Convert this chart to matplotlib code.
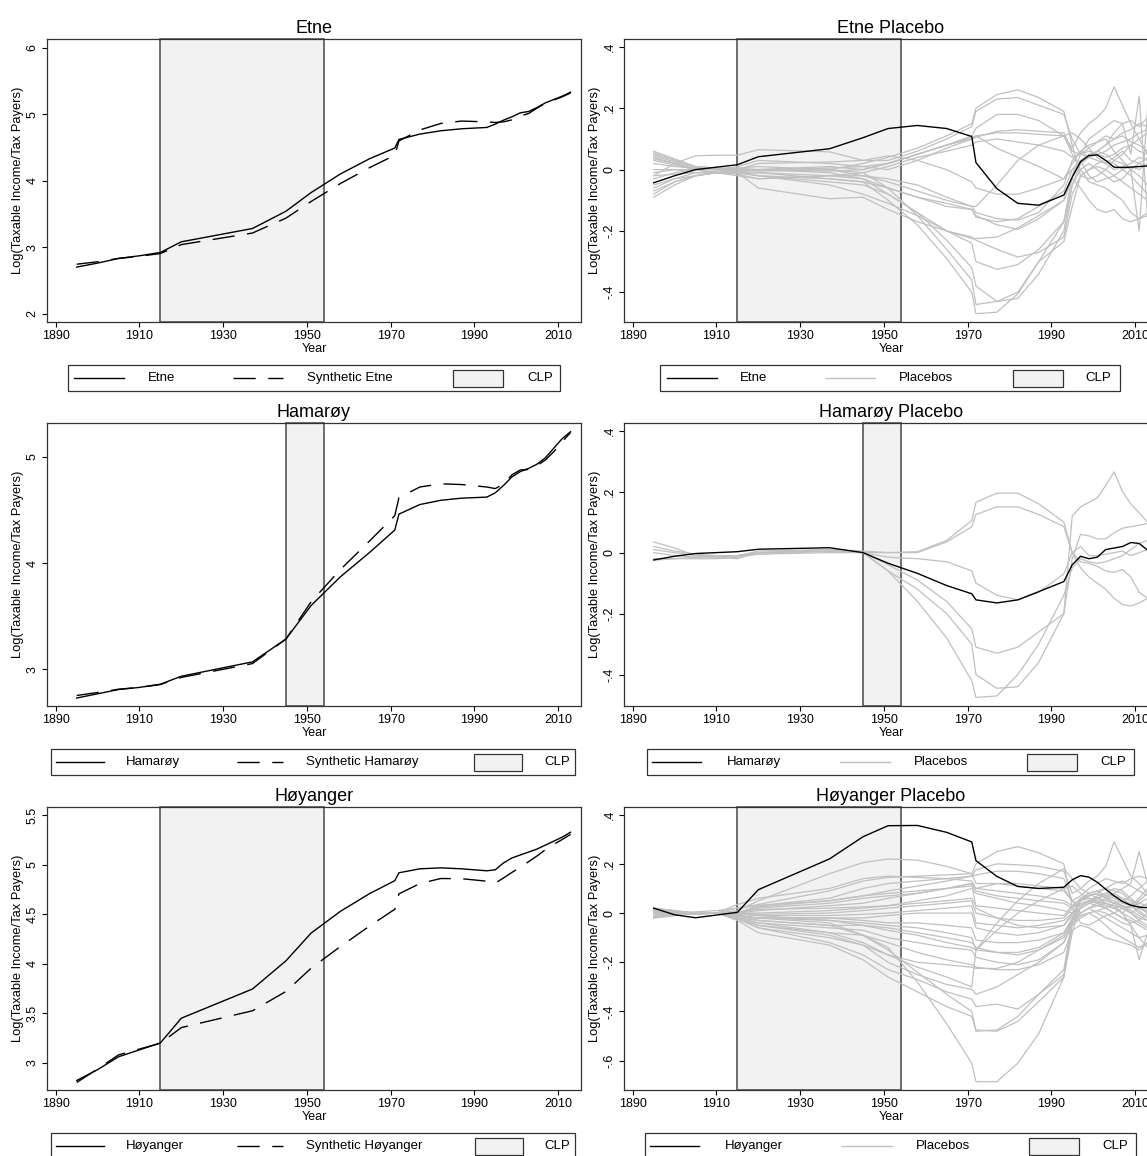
import matplotlib
matplotlib.use('Agg')
import matplotlib.pyplot as plt
from matplotlib.patches import Rectangle

plt.rcParams['font.family'] = ['Liberation Sans', 'DejaVu Sans']

# ---------------- data ----------------
years = [1895, 1900, 1905, 1910, 1915, 1920, 1937, 1945,
         1951, 1958, 1965, 1971, 1972, 1977, 1982, 1987, 1993,
         1995, 1997, 1999, 2001, 2003, 2005, 2007, 2009, 2011, 2013]

xticks = [1890, 1910, 1930, 1950, 1970, 1990, 2010]

# Etne
etne_actual = [2.70, 2.76, 2.83, 2.87, 2.92, 3.08, 3.28, 3.54,
               3.82, 4.10, 4.33, 4.49, 4.62, 4.70, 4.75, 4.78, 4.80,
               4.85, 4.91, 4.96, 5.02, 5.04, 5.10, 5.17, 5.22, 5.27, 5.33]
etne_synth = [2.743, 2.78, 2.83, 2.862, 2.904, 3.038, 3.212, 3.436,
              3.686, 3.956, 4.196, 4.382, 4.597, 4.762, 4.86, 4.896, 4.883,
              4.875, 4.884, 4.914, 4.972, 5.01, 5.092, 5.163, 5.212, 5.26, 5.318]
etne_gap = [-0.043, -0.02, 0.0, 0.008, 0.016, 0.042, 0.068, 0.104,
            0.134, 0.144, 0.134, 0.108, 0.023, -0.062, -0.11, -0.116, -0.083,
            -0.025, 0.026, 0.046, 0.048, 0.03, 0.008, 0.007, 0.008, 0.01, 0.012]
etne_placebos = [
    [0.055, 0.03, 0.01, 0.005, 0.0, -0.005, 0.0, 0.02, 0.04, 0.07, 0.11, 0.15, 0.20, 0.245, 0.26, 0.235, 0.19, 0.08, -0.02, -0.03, -0.02, 0.0, 0.03, 0.05, 0.08, 0.10, 0.12],
    [0.045, 0.025, 0.005, 0.0, 0.0, 0.02, 0.025, 0.03, 0.03, 0.06, 0.10, 0.14, 0.19, 0.23, 0.235, 0.21, 0.18, 0.10, 0.05, 0.04, 0.06, 0.08, 0.12, 0.15, 0.16, 0.14, 0.17],
    [0.03, 0.015, 0.0, 0.0, 0.01, 0.03, 0.02, 0.01, 0.02, 0.05, 0.08, 0.11, 0.135, 0.18, 0.18, 0.16, 0.11, 0.07, 0.12, 0.15, 0.17, 0.20, 0.27, 0.21, 0.15, 0.10, 0.05],
    [0.02, 0.01, 0.005, 0.0, -0.005, 0.0, 0.01, 0.0, 0.02, 0.05, 0.08, 0.105, 0.11, 0.12, 0.12, 0.115, 0.11, 0.05, 0.0, -0.04, -0.05, -0.06, -0.08, -0.10, -0.14, -0.16, -0.15],
    [0.06, 0.035, 0.01, 0.005, 0.0, 0.0, 0.005, 0.01, 0.0, 0.03, 0.07, 0.10, 0.105, 0.125, 0.13, 0.125, 0.12, 0.06, 0.05, 0.07, 0.09, 0.11, 0.10, 0.12, 0.13, 0.15, 0.14],
    [-0.01, 0.0, 0.0, 0.0, 0.005, 0.01, 0.0, -0.01, 0.01, 0.04, 0.06, 0.08, 0.09, 0.10, 0.09, 0.08, 0.06, 0.04, 0.05, 0.06, 0.05, 0.04, 0.05, 0.07, 0.08, 0.06, 0.05],
    [0.0, 0.0, -0.01, -0.01, -0.01, 0.0, 0.0, -0.02, -0.04, -0.07, -0.10, -0.12, -0.12, -0.05, 0.03, 0.08, 0.11, 0.12, 0.10, 0.07, 0.04, 0.02, 0.0, 0.01, 0.02, 0.04, 0.03],
    [-0.03, -0.01, 0.0, 0.005, 0.005, 0.0, -0.005, 0.0, 0.02, 0.05, 0.08, 0.10, 0.11, 0.07, 0.04, 0.01, -0.03, 0.02, 0.06, 0.08, 0.09, 0.10, 0.06, 0.03, 0.0, 0.02, 0.04],
    [-0.02, -0.015, -0.01, -0.01, -0.01, -0.01, -0.02, -0.02, -0.03, -0.05, -0.09, -0.12, -0.14, -0.16, -0.165, -0.14, -0.05, 0.03, 0.06, 0.04, 0.03, 0.02, 0.04, 0.06, 0.03, 0.02, 0.01],
    [-0.05, -0.03, -0.02, -0.01, -0.005, 0.0, -0.01, -0.03, -0.06, -0.09, -0.11, -0.13, -0.155, -0.17, -0.16, -0.12, -0.07, 0.0, 0.03, -0.02, -0.04, -0.03, -0.02, 0.0, 0.01, 0.0, 0.02],
    [-0.07, -0.04, -0.02, -0.01, -0.01, -0.02, -0.03, -0.04, -0.06, -0.09, -0.12, -0.13, -0.15, -0.18, -0.195, -0.16, -0.10, -0.03, -0.06, -0.10, -0.13, -0.14, -0.13, -0.16, -0.17, -0.16, -0.14],
    [-0.09, -0.05, -0.02, -0.01, -0.01, -0.06, -0.095, -0.09, -0.13, -0.17, -0.20, -0.22, -0.23, -0.26, -0.285, -0.27, -0.22, -0.08, -0.02, 0.0, 0.02, 0.03, 0.02, 0.0, -0.02, -0.05, -0.08],
    [-0.06, -0.03, -0.01, -0.005, -0.005, -0.02, -0.04, -0.05, -0.08, -0.14, -0.20, -0.24, -0.30, -0.325, -0.31, -0.26, -0.17, -0.05, 0.0, 0.02, 0.0, -0.02, -0.04, -0.03, 0.0, -0.2, 0.2],
    [0.04, 0.02, 0.0, -0.01, -0.02, -0.03, -0.02, -0.01, -0.06, -0.15, -0.26, -0.36, -0.44, -0.43, -0.42, -0.34, -0.20, -0.05, 0.02, 0.04, 0.05, 0.06, 0.08, 0.09, 0.10, 0.12, 0.13],
    [0.05, 0.03, 0.01, 0.0, -0.01, -0.01, -0.03, -0.04, -0.10, -0.18, -0.29, -0.40, -0.47, -0.465, -0.405, -0.30, -0.17, -0.02, 0.03, 0.05, 0.06, 0.05, 0.03, 0.02, 0.0, -0.02, -0.05],
    [0.035, 0.02, 0.0, -0.01, -0.015, -0.03, -0.02, -0.03, -0.08, -0.14, -0.23, -0.32, -0.38, -0.43, -0.40, -0.30, -0.235, -0.12, -0.02, 0.0, 0.01, 0.0, -0.02, -0.04, -0.06, -0.08, -0.10],
    [-0.02, 0.02, 0.045, 0.047, 0.047, 0.065, 0.058, 0.03, 0.045, 0.03, 0.0, -0.04, -0.06, -0.08, -0.08, -0.06, -0.03, 0.0, 0.02, 0.04, 0.06, 0.08, 0.10, 0.11, 0.09, 0.08, 0.06],
    [-0.08, -0.04, -0.02, -0.01, -0.01, -0.02, -0.05, -0.08, -0.11, -0.15, -0.20, -0.225, -0.225, -0.22, -0.19, -0.15, -0.10, -0.02, 0.05, 0.10, 0.12, 0.14, 0.16, 0.15, 0.05, 0.24, -0.15],
]

# Hamarøy
hama_actual = [2.73, 2.77, 2.81, 2.83, 2.86, 2.935, 3.07, 3.285,
               3.60, 3.87, 4.10, 4.31, 4.46, 4.55, 4.59, 4.61, 4.62,
               4.66, 4.73, 4.81, 4.86, 4.89, 4.93, 4.99, 5.08, 5.17, 5.235]
hama_synth = [2.754, 2.782, 2.813, 2.83, 2.857, 2.924, 3.054, 3.285,
              3.635, 3.938, 4.208, 4.445, 4.615, 4.715, 4.745, 4.738, 4.715,
              4.70, 4.742, 4.83, 4.875, 4.88, 4.915, 4.97, 5.047, 5.14, 5.227]
hama_gap = [-0.024, -0.012, -0.003, 0.0, 0.003, 0.011, 0.016, 0.0,
            -0.035, -0.068, -0.108, -0.135, -0.155, -0.165, -0.155, -0.128, -0.095,
            -0.04, -0.012, -0.02, -0.015, 0.01, 0.015, 0.02, 0.033, 0.03, 0.008]
hama_placebos = [
    [0.035, 0.015, -0.01, -0.015, -0.02, 0.0, 0.005, 0.0, 0.0, 0.003, 0.04, 0.105, 0.165, 0.195, 0.195, 0.16, 0.10, 0.0, -0.05, -0.08, -0.10, -0.12, -0.15, -0.17, -0.175, -0.165, -0.15],
    [0.02, 0.005, -0.005, -0.01, -0.01, 0.005, 0.01, 0.005, 0.0, 0.0, 0.035, 0.085, 0.125, 0.15, 0.15, 0.125, 0.085, 0.0, -0.03, -0.035, -0.045, -0.06, -0.065, -0.055, -0.08, -0.13, -0.15],
    [-0.02, -0.02, -0.02, -0.02, -0.015, -0.005, 0.0, 0.0, -0.06, -0.12, -0.2, -0.3, -0.4, -0.445, -0.44, -0.36, -0.2, 0.12, 0.15, 0.165, 0.18, 0.22, 0.265, 0.2, 0.16, 0.13, 0.10],
    [0.0, -0.01, -0.015, -0.015, -0.01, 0.0, 0.005, 0.0, -0.04, -0.09, -0.16, -0.25, -0.31, -0.33, -0.31, -0.26, -0.2, -0.02, 0.06, 0.055, 0.045, 0.045, 0.065, 0.08, 0.085, 0.09, 0.095],
    [0.01, 0.0, -0.01, -0.01, -0.01, 0.0, 0.01, 0.0, -0.015, -0.02, -0.03, -0.06, -0.1, -0.14, -0.155, -0.13, -0.07, 0.0, 0.02, -0.01, -0.01, -0.005, 0.0, 0.005, -0.01, 0.0, 0.01],
    [-0.025, -0.02, -0.015, -0.01, -0.01, -0.005, 0.005, 0.0, -0.06, -0.16, -0.28, -0.42, -0.475, -0.47, -0.40, -0.30, -0.14, -0.05, -0.02, -0.03, -0.035, -0.03, -0.02, -0.01, 0.01, 0.03, 0.04],
]

# Høyanger
hoy_actual = [2.82, 2.93, 3.06, 3.13, 3.20, 3.45, 3.745, 4.03,
              4.31, 4.53, 4.71, 4.84, 4.92, 4.96, 4.97, 4.96, 4.94,
              4.95, 5.02, 5.07, 5.10, 5.13, 5.16, 5.20, 5.24, 5.28, 5.33]
hoy_synth = [2.80, 2.937, 3.079, 3.138, 3.197, 3.355, 3.525, 3.72,
             3.955, 4.174, 4.382, 4.551, 4.707, 4.811, 4.862, 4.86, 4.835,
             4.815, 4.868, 4.924, 4.975, 5.033, 5.09, 5.153, 5.208, 5.256, 5.308]
hoy_gap = [0.02, -0.007, -0.019, -0.008, 0.003, 0.095, 0.22, 0.31,
           0.355, 0.356, 0.328, 0.289, 0.213, 0.149, 0.108, 0.1, 0.105,
           0.135, 0.152, 0.146, 0.125, 0.097, 0.07, 0.047, 0.032, 0.024, 0.022]
hoy_placebos = [
    [0.01, 0.0, -0.005, 0.0, 0.01, 0.05, 0.16, 0.205, 0.22, 0.215, 0.19, 0.16, 0.12, 0.12, 0.11, 0.10, 0.09, 0.05, 0.03, 0.05, 0.06, 0.07, 0.08, 0.06, 0.05, 0.04, 0.03],
    [-0.01, 0.0, 0.005, 0.01, 0.02, 0.035, 0.09, 0.13, 0.145, 0.15, 0.155, 0.16, 0.2, 0.25, 0.27, 0.245, 0.2, 0.02, -0.04, -0.05, -0.03, -0.01, 0.0, 0.02, 0.03, 0.01, -0.02],
    [0.0, 0.005, 0.0, 0.0, 0.0, 0.03, 0.06, 0.1, 0.12, 0.13, 0.14, 0.15, 0.176, 0.2, 0.196, 0.19, 0.17, 0.08, 0.1, 0.13, 0.15, 0.19, 0.29, 0.22, 0.15, 0.12, 0.08],
    [0.02, 0.01, 0.0, 0.0, -0.005, 0.025, 0.05, 0.07, 0.09, 0.11, 0.13, 0.15, 0.155, 0.17, 0.17, 0.16, 0.14, 0.05, 0.0, 0.02, 0.04, 0.06, 0.08, 0.1, 0.12, 0.25, 0.12],
    [-0.02, -0.01, 0.0, 0.0, 0.0, 0.02, 0.04, 0.06, 0.07, 0.08, 0.1, 0.12, 0.1, 0.12, 0.12, 0.11, 0.1, 0.05, 0.07, 0.1, 0.12, 0.14, 0.13, 0.12, 0.14, 0.15, 0.14],
    [0.015, 0.005, -0.005, 0.0, 0.0, 0.01, 0.03, 0.04, 0.06, 0.08, 0.1, 0.11, 0.09, 0.07, 0.06, 0.05, 0.04, 0.02, 0.05, 0.08, 0.09, 0.1, 0.09, 0.08, 0.05, 0.02, 0.0],
    [-0.015, -0.005, 0.0, 0.0, 0.005, 0.015, 0.02, 0.025, 0.03, 0.05, 0.07, 0.1, 0.08, 0.06, 0.04, 0.03, 0.01, 0.0, 0.02, 0.04, 0.06, 0.05, 0.07, 0.06, 0.03, 0.0, -0.02],
    [0.0, 0.0, 0.0, 0.0, -0.01, -0.02, -0.03, -0.05, -0.07, -0.09, -0.12, -0.14, -0.15, -0.07, 0.0, 0.05, 0.1, 0.11, 0.08, 0.06, 0.05, 0.03, 0.02, 0.03, 0.0, -0.03, -0.05],
    [0.01, 0.005, 0.0, 0.0, 0.0, 0.0, 0.01, 0.02, 0.03, 0.04, 0.05, 0.06, 0.03, 0.02, 0.01, 0.0, -0.01, 0.03, 0.06, 0.07, 0.08, 0.06, 0.05, 0.03, 0.02, 0.04, 0.06],
    [-0.01, 0.0, 0.0, 0.0, 0.0, -0.005, 0.0, 0.01, 0.02, 0.03, 0.04, 0.05, 0.0, -0.02, -0.03, -0.03, -0.02, 0.02, 0.05, 0.06, 0.04, 0.03, 0.02, 0.0, -0.02, -0.04, -0.06],
    [0.005, 0.0, 0.0, 0.0, 0.0, -0.01, -0.01, -0.005, 0.0, 0.01, 0.02, 0.03, -0.04, -0.05, -0.06, -0.05, -0.03, 0.0, 0.04, 0.05, 0.06, 0.05, 0.04, 0.03, 0.01, -0.01, -0.03],
    [-0.01, -0.005, 0.0, 0.0, -0.01, -0.02, -0.02, -0.02, -0.01, 0.0, 0.0, 0.0, -0.06, -0.08, -0.09, -0.08, -0.05, -0.01, 0.02, 0.04, 0.03, 0.02, 0.0, -0.02, -0.03, -0.05, -0.07],
    [0.0, 0.0, 0.0, 0.0, -0.015, -0.02, -0.02, -0.03, -0.04, -0.04, -0.05, -0.06, -0.11, -0.12, -0.12, -0.11, -0.08, -0.02, 0.0, 0.02, 0.0, -0.02, -0.04, -0.06, -0.08, -0.1, -0.09],
    [0.02, 0.01, 0.0, 0.0, -0.02, -0.03, -0.05, -0.05, -0.06, -0.08, -0.1, -0.12, -0.14, -0.16, -0.17, -0.15, -0.1, -0.03, 0.0, 0.02, 0.03, 0.04, 0.03, 0.02, 0.0, -0.02, -0.03],
    [-0.02, -0.01, 0.0, 0.0, -0.02, -0.04, -0.06, -0.07, -0.1, -0.12, -0.14, -0.15, -0.18, -0.2, -0.21, -0.19, -0.12, -0.05, -0.02, 0.0, -0.02, -0.05, -0.08, -0.1, -0.12, -0.14, -0.12],
    [0.01, 0.005, 0.0, 0.0, -0.02, -0.05, -0.08, -0.09, -0.12, -0.16, -0.19, -0.21, -0.22, -0.23, -0.23, -0.21, -0.16, -0.07, -0.05, -0.06, -0.08, -0.1, -0.11, -0.12, -0.13, -0.15, -0.12],
    [-0.01, 0.0, 0.0, 0.0, -0.025, -0.06, -0.1, -0.13, -0.17, -0.2, -0.21, -0.22, -0.225, -0.225, -0.2, -0.15, -0.09, -0.04, -0.01, 0.0, 0.01, 0.0, -0.02, -0.04, -0.05, -0.19, -0.08],
    [0.0, 0.005, 0.0, 0.0, -0.02, -0.05, -0.09, -0.13, -0.2, -0.25, -0.29, -0.31, -0.33, -0.3, -0.25, -0.2, -0.12, -0.03, 0.02, 0.04, 0.05, 0.04, 0.03, 0.0, -0.05, -0.1, -0.14],
    [0.01, 0.0, -0.005, 0.0, -0.02, -0.06, -0.12, -0.17, -0.23, -0.27, -0.32, -0.35, -0.38, -0.37, -0.39, -0.33, -0.25, -0.02, 0.05, 0.07, 0.08, 0.06, 0.04, 0.02, 0.0, 0.02, 0.04],
    [-0.01, 0.0, 0.0, 0.0, -0.03, -0.08, -0.13, -0.19, -0.26, -0.32, -0.38, -0.42, -0.475, -0.48, -0.44, -0.36, -0.26, -0.08, 0.03, 0.05, 0.04, 0.02, 0.0, -0.02, -0.04, -0.03, 0.0],
    [0.005, 0.0, -0.005, 0.0, -0.01, -0.02, -0.04, -0.09, -0.15, -0.24, -0.33, -0.4, -0.48, -0.475, -0.42, -0.33, -0.23, -0.03, 0.06, 0.08, 0.09, 0.07, 0.06, 0.04, 0.03, 0.05, 0.08],
    [0.0, 0.0, 0.0, 0.0, -0.01, -0.03, -0.05, -0.09, -0.14, -0.28, -0.45, -0.61, -0.685, -0.685, -0.61, -0.49, -0.26, -0.05, 0.03, 0.05, 0.07, 0.08, 0.1, 0.09, 0.06, 0.03, 0.0],
    [0.015, 0.005, 0.0, 0.0, -0.02, -0.04, -0.08, -0.12, -0.17, -0.22, -0.26, -0.3, -0.15, -0.04, 0.05, 0.12, 0.18, 0.14, 0.1, 0.08, 0.06, 0.04, 0.02, 0.0, 0.03, 0.06, 0.1],
    [-0.015, -0.005, 0.0, 0.0, 0.02, 0.03, 0.05, 0.07, 0.08, 0.09, 0.1, 0.12, 0.02, -0.02, -0.05, -0.06, -0.05, 0.0, 0.05, 0.07, 0.08, 0.1, 0.12, 0.13, 0.11, 0.09, 0.07],
    [0.0, 0.0, 0.0, 0.0, 0.035, 0.06, 0.1, 0.14, 0.15, 0.145, 0.14, 0.13, 0.1, 0.09, 0.08, 0.07, 0.05, 0.03, 0.03, 0.05, 0.06, 0.08, 0.07, 0.05, 0.04, 0.02, 0.01],
    [0.01, 0.0, 0.0, 0.0, -0.005, -0.01, -0.03, -0.04, -0.05, -0.06, -0.08, -0.1, -0.15, -0.16, -0.16, -0.14, -0.08, -0.03, -0.01, 0.0, 0.01, 0.02, 0.04, 0.05, 0.07, 0.1, 0.13],
]

for arr in [etne_actual, etne_synth, etne_gap, hama_actual, hama_synth, hama_gap,
            hoy_actual, hoy_synth, hoy_gap] + etne_placebos + hama_placebos + hoy_placebos:
    assert len(arr) == len(years), len(arr)

# ---------------- layout ----------------
W, H = 1147, 1156
fig = plt.figure(figsize=(W / 100, H / 100), dpi=100)

cols = [(47, 581), (624, 1158)]
rows = [(39, 322), (423, 706), (807, 1090)]


def add_ax(col, row):
    x0, x1 = cols[col]
    y0, y1 = rows[row]
    return fig.add_axes([x0 / W, 1 - y1 / H, (x1 - x0) / W, (y1 - y0) / H])


BLACK = '#000000'
GRAY = '#c0c0c0'
SHADE = '#f2f2f2'
EDGE = '#555555'
YLABEL = 'Log(Taxable Income/Tax Payers)'


def style(ax, title, ylim, yticks, ylabels):
    ax.set_xlim(1887.9, 2015.5)
    ax.set_ylim(*ylim)
    ax.set_xticks(xticks)
    ax.set_xticklabels([str(t) for t in xticks])
    ax.set_yticks(yticks)
    ax.set_yticklabels(ylabels, rotation=90, va='center')
    ax.tick_params(direction='out', length=3.6, width=0.8, labelsize=9, pad=2.5,
                   colors='#000000')
    for s in ax.spines.values():
        s.set_linewidth(0.9)
        s.set_color('#333333')
    ax.set_xlabel('Year', fontsize=9, labelpad=0.5)
    ax.set_ylabel(YLABEL, fontsize=9.3, labelpad=1.5)
    ax.set_title(title, fontsize=13, pad=4)


def clp(ax, start, end):
    ax.axvspan(start, end, facecolor=SHADE, edgecolor=EDGE, linewidth=1.2,
               zorder=0, clip_on=False)


dash = (0, (16, 9))

panels = [
    ('Etne', etne_actual, etne_synth, etne_gap, etne_placebos, (1915, 1954),
     (1.874, 6.13), [2, 3, 4, 5, 6], ['2', '3', '4', '5', '6'],
     (-0.497, 0.426), [-0.4, -0.2, 0, 0.2, 0.4], ['-.4', '-.2', '0', '.2', '.4']),
    ('Hamarøy', hama_actual, hama_synth, hama_gap, hama_placebos, (1945, 1954),
     (2.655, 5.317), [3, 4, 5], ['3', '4', '5'],
     (-0.503, 0.425), [-0.4, -0.2, 0, 0.2, 0.4], ['-.4', '-.2', '0', '.2', '.4']),
    ('Høyanger', hoy_actual, hoy_synth, hoy_gap, hoy_placebos, (1915, 1954),
     (2.724, 5.585), [3, 3.5, 4, 4.5, 5, 5.5], ['3', '3.5', '4', '4.5', '5', '5.5'],
     (-0.719, 0.431), [-0.6, -0.4, -0.2, 0, 0.2, 0.4], ['-.6', '-.4', '-.2', '0', '.2', '.4']),
]

for r, (name, act, syn, gap, plac, span, ylim1, yt1, yl1, ylim2, yt2, yl2) in enumerate(panels):
    ax = add_ax(0, r)
    clp(ax, *span)
    ax.plot(years, act, color=BLACK, lw=1.0, zorder=3)
    ax.plot(years, syn, color=BLACK, lw=1.0, linestyle=dash, zorder=3)
    style(ax, name, ylim1, yt1, yl1)

    ax2 = add_ax(1, r)
    clp(ax2, *span)
    for p in plac:
        ax2.plot(years, p, color=GRAY, lw=0.9, zorder=2)
    ax2.plot(years, gap, color=BLACK, lw=1.0, zorder=3)
    style(ax2, name + ' Placebo', ylim2, yt2, yl2)

# ---------------- legends (figure pixel coordinates) ----------------
ov = fig.add_axes([0, 0, 1, 1], zorder=10)
ov.set_xlim(0, W)
ov.set_ylim(H, 0)
ov.axis('off')
ov.patch.set_alpha(0)

legends = [
    # box x0, x1, y0, y1, [(kind, x0, x1), label_x, label] ...
    dict(box=(68, 560, 365, 391), items=[('solid', 74, 124, 162, 'Etne'),
                                         ('dash', 233, 283, 350, 'Synthetic Etne'),
                                         ('patch', 453, 503, 540, 'CLP')]),
    dict(box=(660, 1120, 365, 391), items=[('solid', 667, 717, 754, 'Etne'),
                                           ('gray', 826, 875, 926, 'Placebos'),
                                           ('patch', 1013, 1063, 1098, 'CLP')]),
    dict(box=(51, 575, 749, 775), items=[('solid', 56, 104, 153, 'Hamarøy'),
                                         ('dash', 237, 283, 362, 'Synthetic Hamarøy'),
                                         ('patch', 474, 522, 557, 'CLP')]),
    dict(box=(647, 1134, 749, 775), items=[('solid', 652, 701, 754, 'Hamarøy'),
                                           ('gray', 840, 890, 941, 'Placebos'),
                                           ('patch', 1027, 1077, 1113, 'CLP')]),
    dict(box=(51, 575, 1133, 1159), items=[('solid', 56, 104, 155, 'Høyanger'),
                                           ('dash', 237, 283, 364, 'Synthetic Høyanger'),
                                           ('patch', 475, 523, 557, 'CLP')]),
    dict(box=(645, 1136, 1133, 1159), items=[('solid', 650, 699, 754, 'Høyanger'),
                                             ('gray', 842, 892, 943, 'Placebos'),
                                             ('patch', 1029, 1079, 1115, 'CLP')]),
]

for lg in legends:
    bx0, bx1, by0, by1 = lg['box']
    ov.add_patch(Rectangle((bx0, by0), bx1 - bx0, by1 - by0, facecolor='white',
                           edgecolor='#333333', lw=0.9, clip_on=False))
    yc = (by0 + by1) / 2
    for kind, x0, x1, tx, label in lg['items']:
        if kind == 'solid':
            ov.plot([x0, x1], [yc, yc], color=BLACK, lw=1.0, clip_on=False)
        elif kind == 'dash':
            ov.plot([x0, x1], [yc, yc], color=BLACK, lw=1.0, linestyle=dash, clip_on=False)
        elif kind == 'gray':
            ov.plot([x0, x1], [yc, yc], color=GRAY, lw=1.0, clip_on=False)
        else:
            ov.add_patch(Rectangle((x0, yc - 8.5), x1 - x0, 17, facecolor=SHADE,
                                   edgecolor='#333333', lw=0.9, clip_on=False))
        ov.text(tx, yc, label, ha='center', va='center', fontsize=9.5)

fig.savefig('out.png', dpi=100)
